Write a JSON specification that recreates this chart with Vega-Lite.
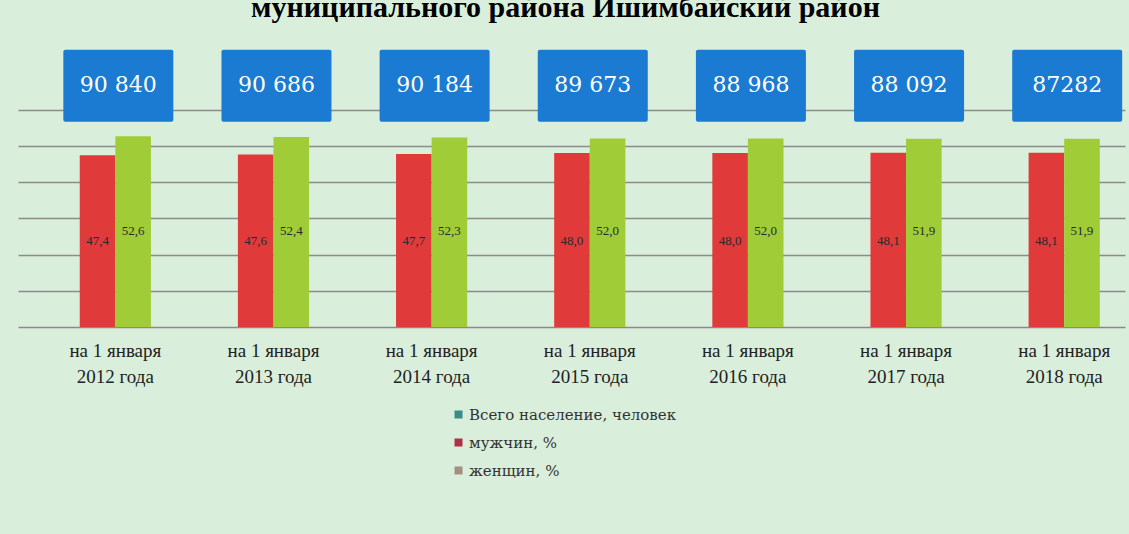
{
  "$schema": "https://vega.github.io/schema/vega-lite/v6.json",
  "autosize": "none",
  "width": 1107,
  "height": 290,
  "padding": {"left": 18, "top": 37, "right": 4, "bottom": 207},
  "background": "#daeedc",
  "title": {
    "text": "муниципального района Ишимбайский район",
    "font": "Liberation Serif",
    "fontSize": 30,
    "fontWeight": "bold",
    "color": "#000000",
    "anchor": "middle",
    "offset": 14,
    "dx": -6
  },
  "config": {
    "view": {"stroke": null},
    "locale": {"number": {"decimal": ",", "thousands": " ", "grouping": [3], "currency": ["", ""]}}
  },
  "datasets": {
    "pop": [
      {"period": "на 1 января 2012 года", "population": 90840, "shown": "90 840"},
      {"period": "на 1 января 2013 года", "population": 90686, "shown": "90 686"},
      {"period": "на 1 января 2014 года", "population": 90184, "shown": "90 184"},
      {"period": "на 1 января 2015 года", "population": 89673, "shown": "89 673"},
      {"period": "на 1 января 2016 года", "population": 88968, "shown": "88 968"},
      {"period": "на 1 января 2017 года", "population": 88092, "shown": "88 092"},
      {"period": "на 1 января 2018 года", "population": 87282, "shown": "87282"}
    ],
    "sex": [
      {"period": "на 1 января 2012 года", "group": "мужчин, %", "value": 47.4},
      {"period": "на 1 января 2012 года", "group": "женщин, %", "value": 52.6},
      {"period": "на 1 января 2013 года", "group": "мужчин, %", "value": 47.6},
      {"period": "на 1 января 2013 года", "group": "женщин, %", "value": 52.4},
      {"period": "на 1 января 2014 года", "group": "мужчин, %", "value": 47.7},
      {"period": "на 1 января 2014 года", "group": "женщин, %", "value": 52.3},
      {"period": "на 1 января 2015 года", "group": "мужчин, %", "value": 48.0},
      {"period": "на 1 января 2015 года", "group": "женщин, %", "value": 52.0},
      {"period": "на 1 января 2016 года", "group": "мужчин, %", "value": 48.0},
      {"period": "на 1 января 2016 года", "group": "женщин, %", "value": 52.0},
      {"period": "на 1 января 2017 года", "group": "мужчин, %", "value": 48.1},
      {"period": "на 1 января 2017 года", "group": "женщин, %", "value": 51.9},
      {"period": "на 1 января 2018 года", "group": "мужчин, %", "value": 48.1},
      {"period": "на 1 января 2018 года", "group": "женщин, %", "value": 51.9}
    ],
    "legend": [
      {"series": "Всего население, человек"},
      {"series": "мужчин, %"},
      {"series": "женщин, %"}
    ]
  },
  "layer": [
    {
      "encoding": {
        "x": {
          "field": "period",
          "type": "nominal",
          "sort": null,
          "title": null,
          "scale": {"paddingInner": 0.55, "paddingOuter": 0.275, "align": 0.71},
          "axis": {
            "labelAngle": 0,
            "labelExpr": "[slice(datum.label, 0, 11), slice(datum.label, 12)]",
            "labelFont": "Liberation Serif",
            "labelFontSize": 19,
            "labelColor": "#222222",
            "labelLineHeight": 26,
            "labelPadding": 14,
            "ticks": false,
            "domainColor": "#8a8a8a",
            "domainWidth": 1.5
          }
        }
      },
      "layer": [
        {
          "data": {"name": "sex"},
          "mark": {"type": "bar"},
          "encoding": {
            "xOffset": {"field": "group", "type": "nominal", "sort": ["мужчин, %", "женщин, %"], "scale": {"paddingInner": 0}},
            "y": {
              "field": "value",
              "type": "quantitative",
              "title": null,
              "scale": {"domain": [0, 80], "nice": false},
              "axis": {
                "values": [10, 20, 30, 40, 50, 60],
                "labels": false,
                "ticks": false,
                "domain": false,
                "grid": true,
                "gridColor": "#8c8c8c",
                "gridWidth": 1.5
              }
            },
            "fill": {
              "field": "group",
              "type": "nominal",
              "legend": null,
              "scale": {"domain": ["мужчин, %", "женщин, %"], "range": ["#e03a3a", "#a0cc38"]}
            }
          }
        },
        {
          "data": {"name": "sex"},
          "transform": [{"filter": "datum.group === 'мужчин, %'"}],
          "mark": {"type": "text", "font": "Liberation Serif", "fontSize": 13, "color": "#2a2a2a"},
          "encoding": {
            "xOffset": {"field": "group", "type": "nominal", "sort": ["мужчин, %", "женщин, %"]},
            "y": {"datum": 23.8},
            "text": {"field": "value", "type": "quantitative", "format": ".1f"}
          }
        },
        {
          "data": {"name": "sex"},
          "transform": [{"filter": "datum.group === 'женщин, %'"}],
          "mark": {"type": "text", "font": "Liberation Serif", "fontSize": 13, "color": "#2a2a2a"},
          "encoding": {
            "xOffset": {"field": "group", "type": "nominal", "sort": ["мужчин, %", "женщин, %"]},
            "y": {"datum": 26.4},
            "text": {"field": "value", "type": "quantitative", "format": ".1f"}
          }
        },
        {
          "data": {"name": "pop"},
          "mark": {"type": "bar", "width": 110, "xOffset": 3, "color": "#1b7bd2", "cornerRadius": 2},
          "encoding": {
            "y": {"datum": 56.6},
            "y2": {"datum": 76.5}
          }
        },
        {
          "data": {"name": "pop"},
          "mark": {"type": "text", "font": "DejaVu Serif", "fontSize": 22, "xOffset": 3, "color": "#ffffff"},
          "encoding": {
            "y": {"datum": 66.8},
            "text": {"field": "shown", "type": "nominal"}
          }
        }
      ]
    },
    {
      "data": {"name": "legend"},
      "mark": {"type": "point", "filled": true, "opacity": 0, "size": 0},
      "encoding": {
        "color": {
          "field": "series",
          "type": "nominal",
          "sort": null,
          "scale": {"domain": ["Всего население, человек", "мужчин, %", "женщин, %"], "range": ["#3a8c8a", "#b03048", "#a39080"]},
          "legend": {
            "title": null,
            "orient": "none",
            "legendX": 433,
            "legendY": 370,
            "padding": 0,
            "symbolType": "square",
            "symbolSize": 64,
            "symbolOpacity": 1,
            "symbolStrokeWidth": 0,
            "labelFont": "DejaVu Serif",
            "labelFontSize": 15,
            "labelLimit": 0,
            "labelColor": "#333333",
            "labelOffset": 3,
            "rowPadding": 12
          }
        }
      }
    }
  ]
}
